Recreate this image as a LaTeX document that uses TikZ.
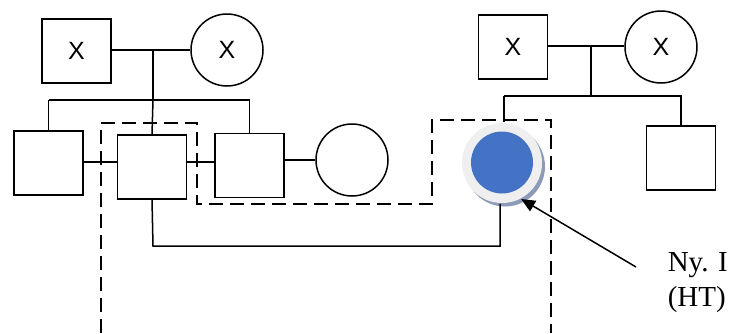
\documentclass[tikz,border=0pt]{standalone}
\usepackage{fontspec}
\setmainfont{Liberation Serif}
\newfontfamily\xfont{Liberation Sans}
\usetikzlibrary{arrows.meta,calc}
\definecolor{patblue}{HTML}{4472C4}
\definecolor{ringgray}{HTML}{EFEFEF}
\definecolor{shadowblue}{HTML}{8E9BB8}
\begin{document}
\begin{tikzpicture}[x=1bp,y=-1bp,
  line width=1.5bp,
  male/.style={draw,rectangle,inner sep=0pt,minimum width=69bp,minimum height=64bp,font=\xfont\fontsize{25bp}{28bp}\selectfont},
  female/.style={draw,circle,inner sep=0pt,minimum size=72bp,font=\xfont\fontsize{25bp}{28bp}\selectfont},
  dashline/.style={dash pattern=on 14bp off 7bp},
  conn/.style={draw}]
\useasboundingbox (0,0) rectangle (729,333);
% left family
\node[male] (gf1) at (76.5,51) {X};
\node[female] (gm1) at (227,50) {X};
\node[male] (c1) at (48.5,163) {};
\node[male] (c2) at (152,167) {};
\node[male] (c3) at (249.5,165.5) {};
\node[female] (w3) at (352,160) {};
% right family
\node[male] (gf2) at (513,47) {X};
\node[female] (gm2) at (661,47) {X};
\node[male] (b2) at (681,158) {};
% patient
\node[circle,fill=shadowblue,minimum size=80bp,inner sep=0pt] (ps) at (505,166.5) {};
\node[circle,fill=ringgray,minimum size=80bp,inner sep=0pt] (p) at (502,163) {};
\node[circle,fill=patblue,minimum size=62bp,inner sep=0pt] (pb) at (502,162.5) {};
% label
\node[anchor=north west,align=left,inner sep=0pt,font=\fontsize{29bp}{35bp}\selectfont] (lbl) at (667,252) {Ny. I\\(HT)};
\coordinate (a0) at (636,267);
% left connectors
\coordinate (m1) at (153,50);
\coordinate (s1) at (153,100);
\draw (gf1.east |- m1) -- (gm1.west |- m1);
\draw (m1) -- (s1);
\draw (c1.north |- s1) -- (c3.north |- s1);
\draw (c1.north |- s1) -- (c1.north);
\draw (s1) -- (c2.north);
\draw (c3.north |- s1) -- (c3.north);
\draw (c1.east |- 0,162) -- (c2.west |- 0,162);
\draw (c2.east |- 0,162) -- (c3.west |- 0,162);
\draw (c3.east |- w3.west) -- (w3.west);
% right connectors
\coordinate (m2) at (591,46);
\coordinate (s2) at (591,96);
\coordinate (pt) at (504,96);
\draw (gf2.east |- m2) -- (gm2.west |- m2);
\draw (m2) -- (s2);
\draw (pt) -- (b2.north |- s2) -- (b2.north);
\draw (pt) -- (pt |- p.north);
% marriage of c2 and patient
\coordinate (d1) at (153,246);
\coordinate (d2) at (500,246);
\draw (c2.south) -- (d1) -- (d2) -- (d2 |- p.south);
% dashed outline
\draw[dashline] (101,333) -- (101,123) -- (197,123) -- (197,204) -- (432,204) -- (432,120) -- (551,120) -- (551,333);
% arrow
\draw[-{Triangle[length=14bp,width=12bp]}] (a0) -- (p.-62);
\end{tikzpicture}
\end{document}
